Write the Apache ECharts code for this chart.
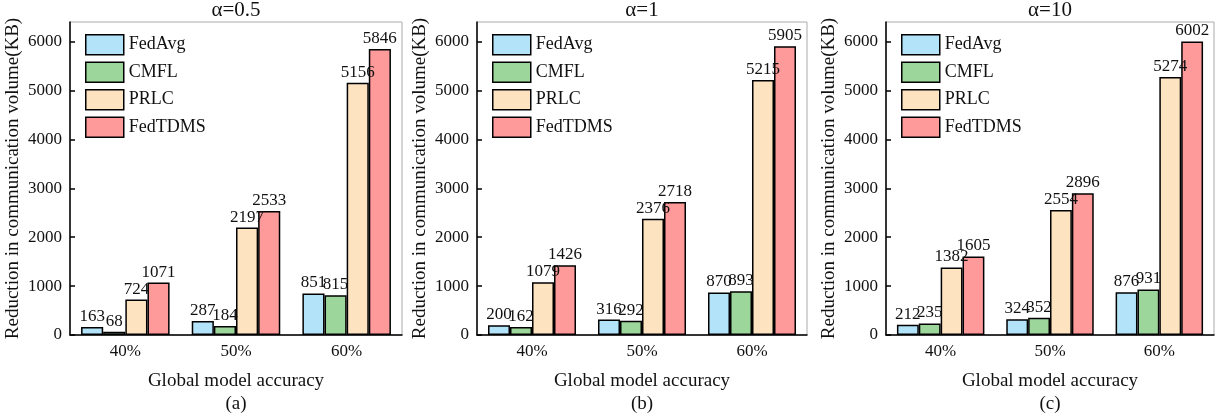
<!DOCTYPE html>
<html>
<head>
<meta charset="utf-8">
<script src="https://cdn.jsdelivr.net/npm/echarts@6/dist/echarts.min.js"></script>
<style>
  html, body { margin: 0; padding: 0; background: #fff; }
  #chart { width: 1217px; height: 419px; }
</style>
</head>
<body>
<div id="chart"></div>
<script>
const categories = ['40%', '50%', '60%'];
const seriesNames = ['FedAvg', 'CMFL', 'PRLC', 'FedTDMS'];
const panelTitles = ['α=0.5', 'α=1', 'α=10'];
const panelCaptions = ['(a)', '(b)', '(c)'];
const yTicks = [0, 1000, 2000, 3000, 4000, 5000, 6000];

// panel (a) alpha=0.5
const fedAvgA = [163, 287, 851];
const cmflA = [68, 184, 815];
const prlcA = [724, 2197, 5156];
const fedTdmsA = [1071, 2533, 5846];
// panel (b) alpha=1
const fedAvgB = [200, 316, 870];
const cmflB = [162, 292, 893];
const prlcB = [1079, 2376, 5215];
const fedTdmsB = [1426, 2718, 5905];
// panel (c) alpha=10
const fedAvgC = [212, 324, 876];
const cmflC = [235, 352, 931];
const prlcC = [1382, 2554, 5274];
const fedTdmsC = [1605, 2896, 6002];

const panelData = [
  [fedAvgA, cmflA, prlcA, fedTdmsA],
  [fedAvgB, cmflB, prlcB, fedTdmsB],
  [fedAvgC, cmflC, prlcC, fedTdmsC],
];

const colors = ['#b3e3f8', '#9dd69a', '#fee3c1', '#fe9a9a'];
const font = '"Liberation Serif", "Times New Roman", serif';
const gridLefts = [70, 477, 886];
const gridWidths = [332, 330, 328];

const chart = echarts.init(document.getElementById('chart'));

const grid = [];
const xAxis = [];
const yAxis = [];
const series = [];
const legend = [];
const title = [];

gridLefts.forEach((left, i) => {
  const center = left + gridWidths[i] / 2;
  grid.push({
    left: left,
    width: gridWidths[i],
    top: 22,
    bottom: 84,
    show: true,
    borderColor: '#aaa',
    borderWidth: 1,
  });
  xAxis.push({
    type: 'category',
    gridIndex: i,
    data: categories,
    name: 'Global model accuracy',
    nameLocation: 'middle',
    nameGap: 37,
    nameTextStyle: { fontFamily: font, fontSize: 19, color: '#111' },
    axisLine: { lineStyle: { color: '#000', width: 1.5 } },
    axisTick: { show: false },
    axisLabel: { fontFamily: font, fontSize: 17, color: '#111', margin: 8 },
  });
  yAxis.push({
    type: 'value',
    gridIndex: i,
    min: 0,
    max: 6400,
    interval: 1000,
    name: 'Reduction in communication volume(KB)',
    nameLocation: 'middle',
    nameGap: 47,
    nameTextStyle: { fontFamily: font, fontSize: 19, color: '#111' },
    axisLine: { show: true, lineStyle: { color: '#000', width: 1.5 } },
    axisTick: { show: true, inside: true, length: 5, customValues: yTicks, lineStyle: { color: '#000', width: 1.5 } },
    axisLabel: {
      fontFamily: font,
      fontSize: 17,
      color: '#111',
      margin: 8,
      customValues: yTicks,
      formatter: (v) => String(v),
    },
    splitLine: { show: false },
  });
  seriesNames.forEach((name, s) => {
    series.push({
      name: name,
      type: 'bar',
      xAxisIndex: i,
      yAxisIndex: i,
      data: panelData[i][s],
      barGap: '0%',
      barCategoryGap: '20%',
      itemStyle: { color: colors[s], borderColor: '#000', borderWidth: 1.5 },
      label: {
        show: true,
        position: 'top',
        distance: 2,
        fontFamily: font,
        fontSize: 17,
        color: '#111',
      },
    });
  });
  legend.push({
    data: seriesNames,
    orient: 'vertical',
    left: left + 15,
    top: 34,
    padding: 0,
    itemWidth: 38,
    itemHeight: 20,
    itemGap: 6,
    icon: 'rect',
    itemStyle: { borderColor: '#000', borderWidth: 1.5 },
    textStyle: { fontFamily: font, fontSize: 18, color: '#111' },
    selectedMode: false,
  });
  title.push({
    text: panelTitles[i],
    left: center,
    top: 0,
    padding: 0,
    textAlign: 'center',
    textStyle: { fontFamily: font, fontSize: 21, fontWeight: 'normal', color: '#111' },
  });
  title.push({
    text: panelCaptions[i],
    left: center,
    top: 395,
    padding: 0,
    textAlign: 'center',
    textStyle: { fontFamily: font, fontSize: 19, fontWeight: 'normal', color: '#111' },
  });
});

chart.setOption({
  animation: false,
  color: colors,
  title: title,
  legend: legend,
  grid: grid,
  xAxis: xAxis,
  yAxis: yAxis,
  series: series,
});
</script>
</body>
</html>
